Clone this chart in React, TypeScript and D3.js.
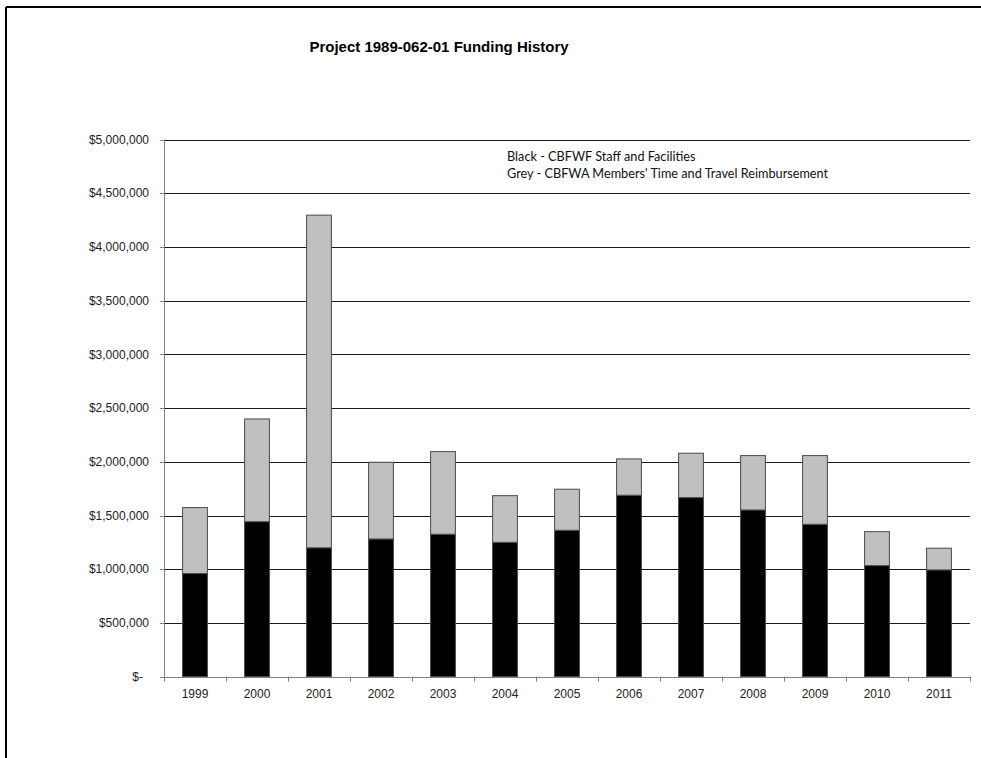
import React, { useEffect, useRef } from 'react';
import * as d3 from 'd3';

const years = ['1999', '2000', '2001', '2002', '2003', '2004', '2005', '2006', '2007', '2008', '2009', '2010', '2011'];
// Black - CBFWF Staff and Facilities
const staffFacilities = [960000, 1443000, 1200000, 1282000, 1326000, 1251000, 1363000, 1689000, 1667000, 1552000, 1419000, 1034000, 994000];
// Grey - CBFWA Members' Time and Travel Reimbursement
const membersTravel = [614000, 956000, 3096000, 714000, 769000, 434000, 382000, 338000, 413000, 506000, 639000, 316000, 202000];
const yTicks = [0, 500000, 1000000, 1500000, 2000000, 2500000, 3000000, 3500000, 4000000, 4500000, 5000000];
const legendLines = [
    'Black - CBFWF Staff and Facilities',
    "Grey - CBFWA Members' Time and Travel Reimbursement",
];

const App: React.FC = () => {
    const svgRef = useRef<SVGSVGElement>(null);

    useEffect(() => {
        if (!svgRef.current) return;
        document.body.style.margin = '0';

        const width = 981;
        const height = 758;
        const left = 164;
        const right = 970;
        const top = 139.5;
        const bottom = 676.7;

        const svg = d3.select(svgRef.current)
            .attr('width', width)
            .attr('height', height);
        svg.selectAll('*').remove();

        svg.append('rect').attr('width', width).attr('height', height).attr('fill', '#fff');

        // outer frame (top and left edges only are visible)
        svg.append('line')
            .attr('x1', 6).attr('x2', width).attr('y1', 7).attr('y2', 7)
            .attr('stroke', '#000').attr('stroke-width', 2);
        svg.append('line')
            .attr('x1', 6).attr('x2', 6).attr('y1', 7).attr('y2', height)
            .attr('stroke', '#000').attr('stroke-width', 2);

        const x = d3.scaleBand<string>()
            .domain(years)
            .range([left, right])
            .paddingInner(0)
            .paddingOuter(0);

        const y = d3.scaleLinear()
            .domain([0, 5000000])
            .range([bottom, top]);

        // gridlines
        svg.append('g')
            .selectAll('line')
            .data(yTicks.filter(t => t > 0))
            .enter()
            .append('line')
            .attr('x1', left)
            .attr('x2', right)
            .attr('y1', d => Math.round(y(d)) + 0.5)
            .attr('y2', d => Math.round(y(d)) + 0.5)
            .attr('stroke', '#1a1a1a')
            .attr('stroke-width', 1);

        // y tick marks and labels
        const fmt = d3.format(',');
        const yAxis = svg.append('g');
        yAxis.selectAll('line')
            .data(yTicks)
            .enter()
            .append('line')
            .attr('x1', left - 4)
            .attr('x2', left)
            .attr('y1', d => Math.round(y(d)) + 0.5)
            .attr('y2', d => Math.round(y(d)) + 0.5)
            .attr('stroke', '#808080');
        yAxis.selectAll('text')
            .data(yTicks)
            .enter()
            .append('text')
            .attr('x', d => (d === 0 ? 143 : 149))
            .attr('y', d => y(d))
            .attr('dy', '0.35em')
            .attr('text-anchor', 'end')
            .style('font-family', 'Liberation Sans, Arial, sans-serif')
            .style('font-size', '12px')
            .style('fill', '#222')
            .text(d => (d === 0 ? '$-' : `$${fmt(d)}`));

        // stacked bars
        const stackData = years.map((yr, i) => ({
            year: yr,
            staff: staffFacilities[i],
            members: membersTravel[i],
        }));
        const series = d3.stack<any>().keys(['staff', 'members'])(stackData);
        const fills = ['#000000', '#c0c0c0'];
        const barW = x.bandwidth() * 0.4;

        svg.append('g')
            .selectAll('g')
            .data(series)
            .enter()
            .append('g')
            .attr('fill', (_d, i) => fills[i])
            .selectAll('rect')
            .data(d => d)
            .enter()
            .append('rect')
            .attr('x', d => (x(d.data.year) as number) + (x.bandwidth() - barW) / 2)
            .attr('width', barW)
            .attr('y', d => y(d[1]))
            .attr('height', d => y(d[0]) - y(d[1]))
            .attr('stroke', '#4a4a4a')
            .attr('stroke-width', 1);

        // axes lines
        svg.append('line')
            .attr('x1', left + 0.5).attr('x2', left + 0.5)
            .attr('y1', top).attr('y2', bottom + 0.5)
            .attr('stroke', '#808080');
        svg.append('line')
            .attr('x1', left).attr('x2', right)
            .attr('y1', Math.round(bottom) + 0.5).attr('y2', Math.round(bottom) + 0.5)
            .attr('stroke', '#808080');

        // x tick marks between categories
        const boundaries = years.map(yr => x(yr) as number).concat([right]);
        svg.append('g')
            .selectAll('line')
            .data(boundaries)
            .enter()
            .append('line')
            .attr('x1', d => Math.round(d) + 0.5)
            .attr('x2', d => Math.round(d) + 0.5)
            .attr('y1', bottom)
            .attr('y2', bottom + 5)
            .attr('stroke', '#808080');

        svg.append('g')
            .selectAll('text')
            .data(years)
            .enter()
            .append('text')
            .attr('x', d => (x(d) as number) + x.bandwidth() / 2)
            .attr('y', 698)
            .attr('text-anchor', 'middle')
            .style('font-family', 'Liberation Sans, Arial, sans-serif')
            .style('font-size', '12px')
            .style('fill', '#222')
            .text(d => d);

        // title
        svg.append('text')
            .attr('x', 439)
            .attr('y', 52)
            .attr('text-anchor', 'middle')
            .style('font-family', 'Liberation Sans, Arial, sans-serif')
            .style('font-size', '15px')
            .style('font-weight', 'bold')
            .style('fill', '#000')
            .text('Project 1989-062-01 Funding History');

        // legend note
        svg.append('g')
            .selectAll('text')
            .data(legendLines)
            .enter()
            .append('text')
            .attr('x', 507)
            .attr('y', (_d, i) => 161 + i * 17)
            .style('font-family', 'Lato, Open Sans, sans-serif')
            .style('font-size', '12.7px')
            .style('fill', '#111')
            .text(d => d);
    }, []);

    return <svg ref={svgRef} style={{ display: 'block' }}></svg>;
};

export default App;
